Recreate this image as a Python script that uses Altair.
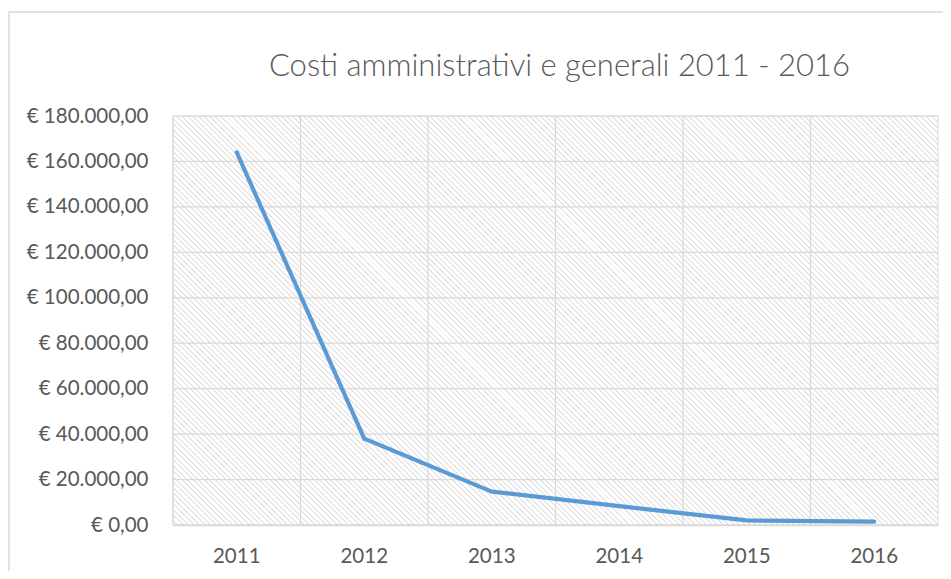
import altair as alt
import pandas as pd

# ---- data ----
years = ["2011", "2012", "2013", "2014", "2015", "2016"]
costs = [164000, 38000, 14700, 8300, 2000, 1500]
y_ticks = [0, 20000, 40000, 60000, 80000, 100000, 120000, 140000, 160000, 180000]
title_text = "Costi amministrativi e generali 2011 - 2016"

W, H = 765, 409
FONT = "Lato, 'Open Sans', sans-serif"
TXT = "#595959"
GRID = "#d9d9d9"

df = pd.DataFrame({"anno": years, "costo": costs})
ticks_df = pd.DataFrame({"costo": y_ticks})

# diagonal hatch built as a striped linear gradient (45 degrees in pixel space)
n = 213
stops = []
for i in range(n):
    a = i / n
    b = (i + 0.64) / n
    c = (i + 1) / n
    stops += [
        {"offset": a, "color": "#ffffff"},
        {"offset": b, "color": "#ffffff"},
        {"offset": b, "color": "#e6e6e6"},
        {"offset": c, "color": "#e6e6e6"},
    ]
t = (W + H) / (W * W + H * H)
hatch = {"gradient": "linear", "stops": stops, "x1": 0, "y1": 1, "x2": t * W, "y2": 1 - t * H}

x_scale = alt.Scale(type="band", paddingInner=0, paddingOuter=0)
y_scale = alt.Scale(domain=[0, 180000], nice=False)

label_expr = ("'€ ' + replace(replace(replace(format(datum.value, ',.2f'), ',', '#'), '.', ','), '#', '.')")

x_axis = alt.Axis(
    title=None, ticks=False, grid=False,
    domainColor=GRID, domainWidth=1.5, labelFontSize=20.5, labelColor=TXT,
    labelFont=FONT, labelPadding=21, labelAngle=0,
)
y_axis = alt.Axis(
    title=None, values=y_ticks, labelExpr=label_expr, ticks=False, grid=False,
    domain=False, labelFontSize=20.5, labelColor=TXT, labelFont=FONT, labelPadding=25,
)

border = alt.Chart(alt.Data(values=[{}])).mark_rect(
    filled=False, stroke=GRID, strokeWidth=1.5
).encode(x=alt.value(-164), x2=alt.value(W + 60), y=alt.value(-104), y2=alt.value(H + 120))

bg = alt.Chart(alt.Data(values=[{}])).mark_rect(
    fill=hatch, stroke=GRID, strokeWidth=1
).encode(x=alt.value(0), x2=alt.value(W), y=alt.value(0), y2=alt.value(H))

ygrid = alt.Chart(ticks_df).mark_rule(color=GRID, strokeWidth=1.2).encode(
    y=alt.Y("costo:Q", scale=y_scale, axis=y_axis)
)

xgrid = alt.Chart(df).mark_rule(color=GRID, strokeWidth=1.2).encode(
    x=alt.X("anno:O", bandPosition=0, scale=x_scale, axis=x_axis)
)

line = alt.Chart(df).mark_line(
    color="#5b9bd5", strokeWidth=4.2, strokeCap="round", strokeJoin="round"
).encode(
    x=alt.X("anno:O", bandPosition=0.5, scale=x_scale, axis=x_axis),
    y=alt.Y("costo:Q", scale=y_scale, axis=y_axis),
)

chart = alt.layer(border, bg, ygrid, xgrid, line).properties(
    width=W,
    height=H,
    title=alt.TitleParams(
        title_text, font=FONT, fontSize=31, fontWeight=300, color=TXT,
        anchor="middle", dx=4, offset=0, dy=72,
    ),
    autosize=alt.AutoSizeParams(type="none"),
    padding={"left": 165, "top": 108, "right": 5, "bottom": 46},
).configure_view(stroke=None)

chart.save("out.html", embed_options={"renderer": "svg", "actions": False})
